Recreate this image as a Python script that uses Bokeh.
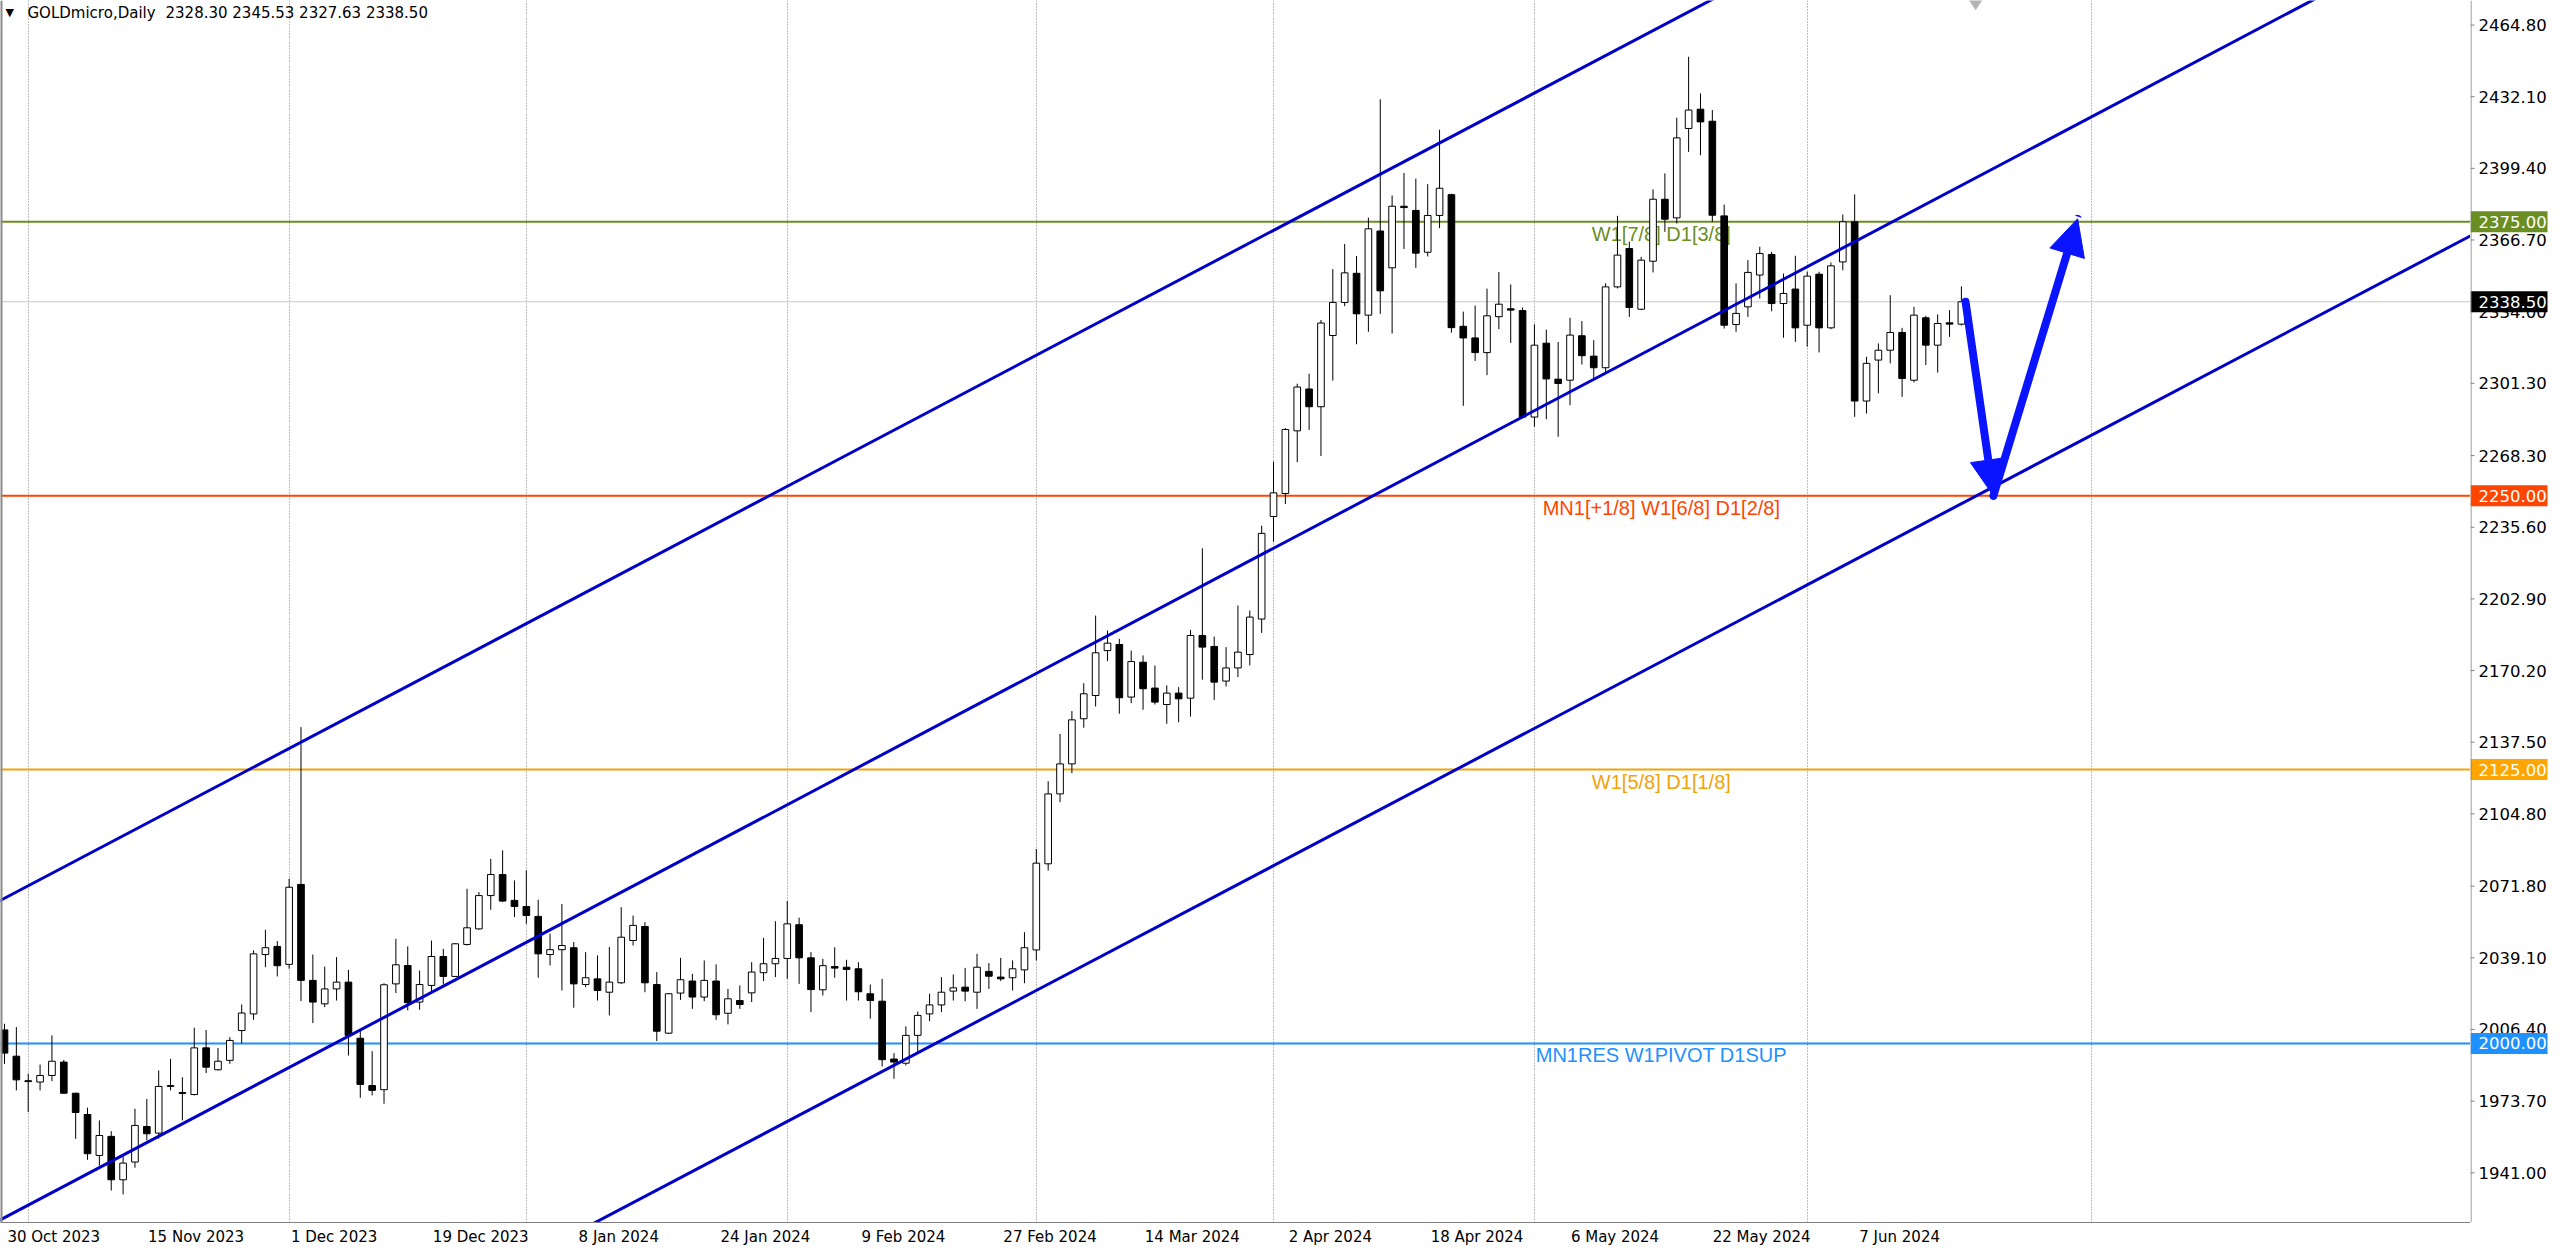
from bokeh.plotting import figure
from bokeh.layouts import row
from bokeh.models import (ColumnDataSource, LinearAxis, FixedTicker, Grid, Span, Label,
                          Arrow, NormalHead, Range1d)
from bokeh.embed import file_html
from bokeh.resources import INLINE

# ---------------- data ----------------
symbol_text = "GOLDmicro,Daily"
last_bar_text = "2328.30 2345.53 2327.63 2338.50"

opens = [2006.2, 1994.2, 1983.0, 1982.4, 1985.4, 1991.5, 1977.3, 1967.6, 1948.9, 1957.6,
         1937.8, 1945.9, 1962.1, 1959.1, 1980.4, 1977.6, 1976.7, 1998.0, 1988.0, 1992.3,
         2005.9, 2013.5, 2040.6, 2044.3, 2036.1, 2072.6, 2028.8, 2018.1, 2024.9, 2028.0,
         2002.4, 1980.8, 1978.9, 2027.2, 2035.6, 2018.9, 2026.5, 2039.7, 2030.6, 2045.2,
         2052.3, 2067.5, 2077.1, 2065.3, 2062.5, 2058.0, 2040.6, 2042.8, 2043.7, 2026.9,
         2029.5, 2023.4, 2027.7, 2047.0, 2053.4, 2026.9, 2004.7, 2023.0, 2028.5, 2021.2,
         2028.5, 2013.8, 2019.6, 2023.1, 2032.3, 2036.4, 2038.8, 2054.2, 2039.1, 2024.5,
         2035.1, 2034.8, 2034.1, 2022.7, 2019.3, 1992.9, 1991.0, 2003.7, 2013.5, 2017.6,
         2023.9, 2025.7, 2023.4, 2032.9, 2030.3, 2030.0, 2033.6, 2042.7, 2082.0, 2113.9,
         2127.6, 2148.2, 2158.8, 2179.3, 2182.1, 2158.1, 2174.0, 2162.2, 2154.7, 2159.9,
         2157.6, 2186.2, 2181.2, 2165.4, 2171.4, 2177.5, 2193.7, 2240.5, 2251.0, 2279.6,
         2298.7, 2290.6, 2323.1, 2338.2, 2351.5, 2332.4, 2370.8, 2354.0, 2382.1, 2380.2,
         2361.1, 2377.9, 2387.4, 2327.3, 2322.0, 2315.3, 2331.7, 2335.3, 2334.5, 2285.9,
         2319.6, 2303.2, 2302.7, 2323.0, 2313.7, 2308.4, 2345.3, 2362.8, 2335.1, 2357.0,
         2385.3, 2376.8, 2417.6, 2426.4, 2420.9, 2377.7, 2328.1, 2336.2, 2350.7, 2360.1,
         2337.7, 2344.3, 2327.8, 2351.1, 2326.6, 2356.7, 2375.0, 2293.2, 2311.9, 2316.4,
         2324.5, 2302.7, 2331.2, 2318.7, 2328.9, 2328.30]
highs = [2009.0, 2007.5, 1986.2, 1990.4, 2003.7, 1992.5, 1977.5, 1970.7, 1964.9, 1960.0,
         1948.4, 1970.2, 1974.7, 1987.7, 1993.0, 1984.6, 2007.2, 2006.2, 1998.0, 2002.9,
         2017.8, 2042.5, 2051.9, 2046.7, 2075.2, 2144.4, 2040.6, 2035.1, 2039.4, 2033.6,
         2006.0, 1996.5, 2027.5, 2047.8, 2044.3, 2033.3, 2047.0, 2043.2, 2045.8, 2070.6,
         2069.1, 2084.3, 2088.1, 2074.4, 2079.0, 2065.6, 2050.1, 2063.7, 2046.3, 2041.7,
         2040.2, 2044.0, 2062.2, 2058.4, 2055.4, 2032.6, 2023.0, 2039.1, 2031.8, 2037.9,
         2036.1, 2024.9, 2026.5, 2037.1, 2048.2, 2055.8, 2065.0, 2057.4, 2041.7, 2038.6,
         2043.9, 2038.2, 2037.1, 2026.9, 2029.5, 1995.6, 2007.8, 2014.6, 2022.7, 2030.3,
         2031.5, 2034.5, 2040.9, 2036.7, 2039.1, 2037.9, 2050.8, 2088.8, 2119.7, 2141.3,
         2151.7, 2164.4, 2195.3, 2188.5, 2184.7, 2179.3, 2177.1, 2172.5, 2163.4, 2162.6,
         2188.8, 2226.0, 2185.7, 2180.9, 2199.9, 2197.6, 2236.3, 2265.6, 2280.9, 2301.1,
         2305.7, 2330.2, 2353.4, 2364.9, 2359.4, 2376.9, 2430.9, 2387.0, 2397.3, 2394.7,
         2392.2, 2417.0, 2387.8, 2334.0, 2336.8, 2344.5, 2352.1, 2346.4, 2335.9, 2328.2,
         2325.8, 2320.2, 2331.2, 2329.7, 2321.0, 2346.9, 2377.7, 2365.9, 2359.0, 2389.8,
         2397.1, 2422.5, 2450.3, 2433.6, 2426.0, 2382.9, 2346.9, 2357.5, 2363.6, 2361.3,
         2351.4, 2359.5, 2352.2, 2352.2, 2356.4, 2378.3, 2387.5, 2313.4, 2319.5, 2341.5,
         2326.6, 2336.2, 2332.1, 2332.7, 2334.7, 2345.53]
lows = [1990.7, 1978.6, 1968.7, 1978.6, 1982.8, 1977.0, 1956.5, 1946.9, 1944.3, 1932.9,
        1931.1, 1943.3, 1955.8, 1956.5, 1978.6, 1964.9, 1976.3, 1986.5, 1987.7, 1990.7,
        2000.0, 2010.8, 2034.8, 2030.6, 2034.1, 2019.3, 2009.3, 2016.6, 2019.6, 1994.5,
        1975.2, 1976.3, 1972.5, 2023.0, 2015.1, 2015.4, 2022.7, 2026.9, 2030.3, 2044.7,
        2051.9, 2061.0, 2064.5, 2057.7, 2054.6, 2030.0, 2035.6, 2024.2, 2016.3, 2025.7,
        2019.6, 2012.8, 2027.2, 2044.7, 2023.4, 2001.1, 2004.4, 2019.9, 2015.8, 2019.3,
        2010.8, 2008.7, 2015.8, 2018.9, 2028.5, 2030.3, 2029.5, 2027.2, 2014.3, 2021.9,
        2030.0, 2019.6, 2019.6, 2011.3, 1989.5, 1983.9, 1990.0, 1995.6, 2010.2, 2014.3,
        2019.6, 2019.3, 2015.8, 2024.9, 2028.5, 2024.2, 2027.5, 2037.9, 2078.9, 2110.1,
        2123.4, 2144.1, 2153.8, 2174.5, 2150.5, 2155.3, 2152.3, 2154.7, 2145.9, 2146.6,
        2149.2, 2166.0, 2156.8, 2162.9, 2167.2, 2172.5, 2187.4, 2229.0, 2246.2, 2265.3,
        2280.0, 2268.1, 2302.5, 2336.5, 2319.1, 2324.8, 2333.0, 2324.0, 2362.6, 2354.0,
        2359.2, 2372.1, 2324.4, 2291.0, 2311.5, 2305.0, 2326.0, 2319.7, 2285.3, 2281.5,
        2284.9, 2276.9, 2291.3, 2309.9, 2303.2, 2305.8, 2344.6, 2331.6, 2334.7, 2351.9,
        2370.4, 2374.2, 2406.9, 2405.4, 2375.0, 2326.3, 2324.8, 2331.6, 2340.0, 2334.2,
        2322.1, 2320.2, 2318.0, 2315.4, 2326.0, 2352.9, 2286.0, 2287.5, 2296.7, 2310.4,
        2295.1, 2301.7, 2309.6, 2306.2, 2322.5, 2327.63]
closes = [1995.6, 1983.4, 1982.6, 1985.4, 1991.9, 1977.3, 1968.5, 1949.7, 1958.0, 1937.8,
          1945.4, 1962.6, 1958.8, 1980.4, 1980.8, 1977.2, 1998.0, 1989.2, 1991.9, 2001.4,
          2013.9, 2040.9, 2043.7, 2035.5, 2071.3, 2028.8, 2018.9, 2024.9, 2028.0, 2003.7,
          1981.3, 1978.6, 2026.8, 2035.9, 2018.6, 2026.9, 2039.7, 2030.6, 2045.5, 2052.8,
          2067.5, 2077.1, 2065.0, 2062.5, 2058.4, 2040.9, 2042.8, 2044.7, 2027.2, 2030.0,
          2024.2, 2028.0, 2048.5, 2053.9, 2027.7, 2005.6, 2022.7, 2029.1, 2021.2, 2028.8,
          2013.1, 2020.4, 2017.8, 2032.6, 2036.4, 2038.8, 2054.6, 2039.1, 2024.6, 2035.5,
          2034.4, 2033.8, 2023.6, 2019.6, 1992.6, 1991.5, 2003.7, 2012.8, 2017.6, 2023.4,
          2025.4, 2023.9, 2034.8, 2030.7, 2029.5, 2034.1, 2043.7, 2082.3, 2113.9, 2127.6,
          2147.7, 2159.6, 2178.3, 2182.7, 2157.8, 2174.3, 2161.9, 2155.8, 2159.9, 2157.3,
          2186.2, 2180.9, 2164.9, 2171.4, 2178.6, 2194.6, 2232.8, 2251.3, 2280.2, 2299.6,
          2290.6, 2328.8, 2338.2, 2351.7, 2333.0, 2371.8, 2343.5, 2382.1, 2381.5, 2360.7,
          2377.9, 2390.3, 2326.7, 2322.0, 2315.3, 2332.1, 2337.4, 2334.7, 2285.9, 2318.7,
          2303.3, 2301.2, 2323.3, 2313.9, 2308.4, 2345.3, 2359.8, 2335.9, 2357.5, 2385.3,
          2376.2, 2413.3, 2426.0, 2420.6, 2378.0, 2327.8, 2333.2, 2351.9, 2360.5, 2337.7,
          2342.3, 2326.6, 2350.2, 2326.6, 2354.9, 2375.0, 2293.2, 2310.4, 2316.4, 2324.5,
          2303.5, 2332.4, 2318.7, 2328.6, 2328.3, 2338.50]

date_tick_bars = [0, 12, 24, 36, 48, 60, 72, 84, 96, 108, 120, 132, 144, 156]
date_tick_labels = ["30 Oct 2023", "15 Nov 2023", "1 Dec 2023", "19 Dec 2023", "8 Jan 2024",
                    "24 Jan 2024", "9 Feb 2024", "27 Feb 2024", "14 Mar 2024", "2 Apr 2024",
                    "18 Apr 2024", "6 May 2024", "22 May 2024", "7 Jun 2024"]
month_start_bars = [2, 24, 44, 66, 87, 107, 129, 152, 176]

price_tick_labels = ["2464.80", "2432.10", "2399.40", "2366.70", "2334.00", "2301.30",
                     "2268.30", "2235.60", "2202.90", "2170.20", "2137.50", "2104.80",
                     "2071.80", "2039.10", "2006.40", "1973.70", "1941.00"]

level_prices = [2375.0, 2250.0, 2125.0, 2000.0]
level_texts = ["W1[7/8] D1[3/8]", "MN1[+1/8] W1[6/8] D1[2/8]", "W1[5/8] D1[1/8]",
               "MN1RES W1PIVOT D1SUP"]
level_colors = ["#6b8e23", "#ff4500", "#f0a30a", "#1e90ff"]
level_box_colors = ["#6b8e23", "#ff4500", "#ffa500", "#1e90ff"]
bid_price = 2338.50

# channel trend lines: two anchor points (bar, price) each
channel_upper = [(-0.34, 2065.3), (129.5, 2435.2)]
channel_middle = [(28.33, 2001.4), (165.77, 2393.8)]
channel_lower = [(69.37, 1974.0), (176.73, 2279.75)]

# hand-drawn forecast arrows (bar, price)
arrow_points = [(165.35, 2338.5), (167.7, 2250.0), (174.8, 2376.4)]

# ---------------- main chart ----------------
BAR_PX = 11.86
FRAME_W = 2470
AX_W = 90
H = 1249
x_start = -0.337
x_end = x_start + FRAME_W / BAR_PX
yr = Range1d(1918.3, 2476.0)

p = figure(width=FRAME_W, height=H,
           x_range=Range1d(x_start, x_end), y_range=yr,
           x_axis_type=None, y_axis_type=None,
           toolbar_location=None, output_backend="svg",
           min_border_left=0, min_border_top=0, min_border_right=0, min_border_bottom=27,
           background_fill_color="white", border_fill_color="white",
           outline_line_color=None)

# left border line
p.add_layout(Span(location=x_start, dimension="height", line_color="#8a8a8a", line_width=4))

# month grid (dotted verticals)
grid = Grid(dimension=0, ticker=FixedTicker(ticks=month_start_bars),
            grid_line_color="#7a7a7a", grid_line_dash="1 2", grid_line_width=1)
p.add_layout(grid)

# level lines and their texts (behind candles)
for lp, lc in zip(level_prices, level_colors):
    p.add_layout(Span(location=lp, dimension="width", line_color=lc, line_width=2,
                      level="underlay"))
p.add_layout(Span(location=bid_price, dimension="width", line_color="#c8c8c8",
                  line_width=1, level="underlay"))
for lp, lt, lc in zip(level_prices, level_texts, level_colors):
    p.add_layout(Label(x=139.7, y=lp, text=lt, text_align="center", text_baseline="top",
                       y_offset=-1, text_color=lc, text_font="Liberation Sans",
                       text_font_size="20px", level="underlay"))

# candles
n = len(opens)
xs = list(range(n))
up = [c >= o for o, c in zip(opens, closes)]
def subset(flag):
    idx = [i for i in range(n) if up[i] == flag]
    return ColumnDataSource(dict(
        x=[xs[i] for i in idx],
        high=[highs[i] for i in idx], low=[lows[i] for i in idx],
        top=[max(opens[i], closes[i]) for i in idx],
        bottom=[min(opens[i], closes[i]) for i in idx]))
src_up = subset(True)
src_dn = subset(False)
for src in (src_up, src_dn):
    p.segment(x0="x", y0="low", x1="x", y1="high", source=src,
              line_color="black", line_width=1)
p.vbar(x="x", width=0.56, top="top", bottom="bottom", source=src_up,
       fill_color="white", line_color="black", line_width=1)
p.vbar(x="x", width=0.56, top="top", bottom="bottom", source=src_dn,
       fill_color="black", line_color="black", line_width=1)

# channel lines, extended across the chart
for (xa, ya), (xb, yb) in (channel_upper, channel_middle, channel_lower):
    k = (yb - ya) / (xb - xa)
    x0, x1 = x_start - 5, x_end + 5
    p.line([x0, x1], [ya + k * (x0 - xa), ya + k * (x1 - xa)],
           line_color="#0000c8", line_width=3)

# small object marker at the top edge
p.scatter([166.2], [2476.0], marker="diamond", size=18, color="#b4b4b4")

# forecast arrows
for (xa, ya), (xb, yb) in zip(arrow_points[:-1], arrow_points[1:]):
    p.add_layout(Arrow(x_start=xa, y_start=ya, x_end=xb, y_end=yb,
                       line_color="#0a14ff", line_width=8, line_cap="round",
                       end=NormalHead(size=36, fill_color="#0a14ff", line_color="#0a14ff",
                                      line_width=1)))

# bottom date axis (label centres placed just right of each bar tick)
centers = [round(b + (2 + len(t) * 8.6 / 2) / BAR_PX, 3)
           for b, t in zip(date_tick_bars, date_tick_labels)]
xax = LinearAxis(ticker=FixedTicker(ticks=centers),
                 major_label_overrides={c: t for c, t in zip(centers, date_tick_labels)},
                 axis_line_color="#808080", major_tick_out=0, major_tick_in=0,
                 major_tick_line_color=None, minor_tick_line_color=None,
                 major_label_standoff=5, major_label_text_font="DejaVu Sans",
                 major_label_text_font_size="15px", major_label_text_color="black")
p.add_layout(xax, "below")

# header
p.add_layout(Label(x=5, x_units="screen", y=2470.5, text="\u25bc", text_baseline="middle",
                   text_font="DejaVu Sans", text_font_size="11px", text_color="black"))
p.add_layout(Label(x=27, x_units="screen", y=2470.5, text=symbol_text, text_baseline="middle",
                   text_font="DejaVu Sans", text_font_size="15px", text_color="black"))
p.add_layout(Label(x=165, x_units="screen", y=2470.5, text=last_bar_text,
                   text_baseline="middle", text_font="DejaVu Sans", text_font_size="15px",
                   text_color="black"))

# ---------------- price scale panel ----------------
pa = figure(width=AX_W, height=H, x_range=Range1d(0, AX_W), y_range=yr,
            x_axis_type=None, y_axis_type=None,
            toolbar_location=None, output_backend="svg",
            min_border_left=0, min_border_top=0, min_border_right=0, min_border_bottom=27,
            background_fill_color="white", border_fill_color="white",
            outline_line_color=None)
pa.xgrid.visible = False
pa.ygrid.visible = False

price_vals = [float(s) for s in price_tick_labels]
pa.add_layout(Span(location=0.5, dimension="height", line_color="#808080", line_width=1))
pa.segment(x0=[0] * len(price_vals), x1=[4] * len(price_vals), y0=price_vals, y1=price_vals,
           line_color="#808080", line_width=1)
pa.text(x=[8] * len(price_vals), y=price_vals, text=price_tick_labels,
        text_align="left", text_baseline="middle", text_color="black",
        text_font={"value": "DejaVu Sans"}, text_font_size={"value": "16.5px"})

box_prices = level_prices + [bid_price]
box_colors = level_box_colors + ["black"]
box_texts = [f"{bp:.2f}" for bp in box_prices]
pa.rect(x=[38.5] * len(box_prices), y=box_prices, width=[77] * len(box_prices),
        height=[21] * len(box_prices), width_units="screen", height_units="screen",
        fill_color=box_colors, line_color=None)
pa.text(x=[8] * len(box_prices), y=box_prices, text=box_texts,
        text_align="left", text_baseline="middle", text_color="white",
        text_font={"value": "DejaVu Sans"}, text_font_size={"value": "16.5px"})

layout = row(p, pa, spacing=0)
open("out.html", "w").write(file_html(layout, INLINE))
